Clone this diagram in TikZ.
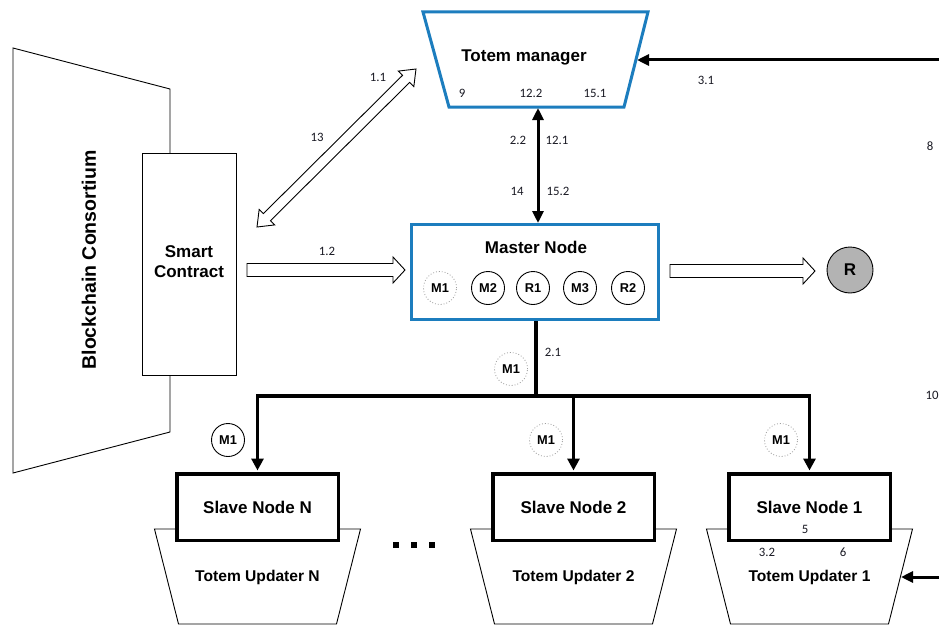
\documentclass[tikz,border=0pt]{standalone}
\usepackage{fontspec}
\setmainfont{Liberation Sans}
\newfontfamily\numfont{Carlito}
\usetikzlibrary{arrows.meta,calc}

\definecolor{tmblue}{RGB}{28,125,190}
\definecolor{tokgray}{RGB}{179,179,179}
\definecolor{numink}{RGB}{25,25,35}

\newcommand\bigbf{\bfseries\fontsize{17}{20}\selectfont}
\newcommand\hugebf{\bfseries\fontsize{19.5}{22}\selectfont}
\newcommand\updbf{\bfseries\fontsize{15.6}{18}\selectfont}
\newcommand\tokbf{\bfseries\fontsize{12.8}{14}\selectfont}
\newcommand\numf{\numfont\fontsize{12.8}{14}\selectfont}

% length and angle of the segment between two named points
\newcommand\hollowgeom[2]{%
  \path let \p1=($(#2)-(#1)$), \n1={veclen(\x1,\y1)}, \n2={atan2(\y1,\x1)} in
    \pgfextra{\xdef\hlen{\n1}\xdef\hang{\n2}};}

% outlined block arrow: from, to, shaft half width, head half width, head length
\newcommand\onewayhollow[5]{%
  \hollowgeom{#1}{#2}%
  \begin{scope}[shift={(#1)}, rotate=\hang]
    \draw[hollow] (0pt,#3) -- (\hlen-#5,#3) -- (\hlen-#5,#4) -- (\hlen,0pt)
      -- (\hlen-#5,-#4) -- (\hlen-#5,-#3) -- (0pt,-#3) -- cycle;
  \end{scope}}

% outlined block arrow with a head at both ends
\newcommand\twowayhollow[5]{%
  \hollowgeom{#1}{#2}%
  \begin{scope}[shift={(#1)}, rotate=\hang]
    \draw[hollow] (0pt,0pt) -- (#5,#4) -- (#5,#3) -- (\hlen-#5,#3) -- (\hlen-#5,#4)
      -- (\hlen,0pt) -- (\hlen-#5,-#4) -- (\hlen-#5,-#3) -- (#5,-#3) -- (#5,-#4) -- cycle;
  \end{scope}}

\begin{document}
\begin{tikzpicture}[x=1pt,y=-1pt,
  outline/.style={draw=black, line width=0.9pt},
  bluebox/.style={draw=tmblue, line width=3pt},
  slavebox/.style={draw=black, line width=3.5pt, fill=white, minimum width=161.5,
    minimum height=66.5, inner sep=0, font=\bigbf},
  token/.style={circle, draw=black, line width=0.9pt, minimum size=33, inner sep=0, font=\tokbf},
  ghost/.style={token, draw=gray!75, dotted, line width=0.8pt},
  num/.style={font=\numf, text=numink, inner sep=0},
  title/.style={font=\bigbf, inner sep=0},
  conn/.style={line width=3.5pt, line join=miter, shorten >=1.5pt,
    -{Triangle[length=12pt,width=12pt]}},
  feed/.style={line width=3pt, -{Triangle[length=12pt,width=11pt]}},
  hollow/.style={draw=black, line width=0.9pt, fill=white, line join=miter}]

\useasboundingbox (0,0) rectangle (939,626);

% Blockchain consortium body with the smart contract inside
\draw[outline] (170,153) -- (170,89) -- (13,48) -- (13,473) -- (170,432) -- (170,375);
\node[inner sep=0, font=\hugebf, rotate=90] (bc) at (89,260) {Blockchain Consortium};
\node[outline, minimum width=94, minimum height=222, inner sep=0] (sc) at (189,264) {};
\node[title, align=center] (sctext) at (189,262) {Smart\\Contract};

% Totem manager
\coordinate (tmTL) at (423,12);
\coordinate (tmTR) at (648,12);
\coordinate (tmBR) at (624,107);
\coordinate (tmBL) at (449,107);
\draw[bluebox, line join=miter] (tmTL) -- (tmTR) -- (tmBR) -- (tmBL) -- cycle;
\node[title] (tm) at (524,57) {Totem manager};
\node[num] (n9) at (462,93) {9};
\node[num] (n122) at (531,93) {12.2};
\node[num] (n151) at (595,93) {15.1};
\coordinate (tmR) at (637,60);
\coordinate (tmB) at (538,108);
\coordinate (tmL) at (416,69);

% Master node with its tokens
\node[bluebox, minimum width=247, minimum height=95, inner sep=0] (master) at (535,272) {};
\node[title] (mtitle) at (536,247) {Master Node};
\node[ghost] (mM1) at (440,288) {M1};
\node[token] (mM2) at (488,288) {M2};
\node[token] (mR1) at (533,288) {R1};
\node[token] (mM3) at (580,288) {M3};
\node[token] (mR2) at (628,288) {R2};

% result token
\node[circle, draw=black, line width=0.9pt, fill=tokgray, minimum size=46, inner sep=0,
  font=\bfseries\fontsize{17}{19}\selectfont] (R) at (850,270) {R};

% manager <-> master
\draw[line width=3pt, {Triangle[length=12pt,width=11pt]}-{Triangle[length=12pt,width=11pt]}]
  (tmB) -- (tmB |- master.north);
\node[num] (l22) at (518,140) {2.2};
\node[num] (l121) at (557,140) {12.1};
\node[num] (l14) at (517,191) {14};
\node[num] (l152) at (558,191) {15.2};

% external feed into the manager
\coordinate (eTop) at (939,60);
\draw[feed] (eTop) -- (tmR);
\node[num] (l31) at (706,80) {3.1};
\node[num] (l8) at (930,146) {8};
\node[num] (l10) at (932,395) {10};

% block arrows
\coordinate (scNE) at (257,227);
\twowayhollow{scNE}{tmL}{5pt}{11pt}{14pt}
\node[num] (l11) at (378,77) {1.1};
\node[num] (l13) at (317,137) {13};

\coordinate (scE) at (247,270);
\coordinate (mW) at (405,270);
\onewayhollow{scE}{mW}{6.5pt}{13pt}{12pt}
\node[num] (l12) at (327,251) {1.2};

\coordinate (mE) at (670,271);
\coordinate (rW) at (815,271);
\onewayhollow{mE}{rW}{6.5pt}{13pt}{12pt}

% totem updaters (behind the slave nodes)
\foreach \c/\nm in {257.5/N, 573.5/2, 809.5/1} {
  \draw[outline] (\c-103,529) -- (\c+103,529) -- (\c+79,624) -- (\c-79,624) -- cycle;
  \node[inner sep=0, font=\updbf] (upd\nm) at (\c,577) {Totem Updater \nm};
}

% slave nodes
\node[slavebox] (slN) at (257.5,507) {Slave Node N};
\node[slavebox] (sl2) at (573.5,507) {Slave Node 2};
\node[slavebox] (sl1) at (809.5,507) {Slave Node 1};

\node[num] (l5) at (805,529) {5};
\node[num] (l32) at (767,552) {3.2};
\node[num] (l6) at (843,552) {6};

% external feed into updater 1
\coordinate (eBot) at (939,577);
\coordinate (upd1R) at (901,577);
\draw[feed] (eBot) -- (upd1R);

% distribution from the master to the slaves
\coordinate (J) at (536,396);
\draw[line width=3.5pt] (master.south -| J) -- (J);
\draw[conn] (J) -| (slN.north);
\draw[conn] (J) -| (sl2.north);
\draw[conn] (J) -| (sl1.north);
\node[num] (l21) at (553,352) {2.1};
\node[ghost] (tJ) at (511,369) {M1};
\node[token] (tN) at (228,440) {M1};
\node[ghost] (t2) at (546,440) {M1};
\node[ghost] (t1) at (781,440) {M1};

% ellipsis between the slave groups
\foreach \dx in {396,414,432}
  \fill (\dx-2.8,542.2) rectangle (\dx+2.8,547.8);

\end{tikzpicture}
\end{document}
